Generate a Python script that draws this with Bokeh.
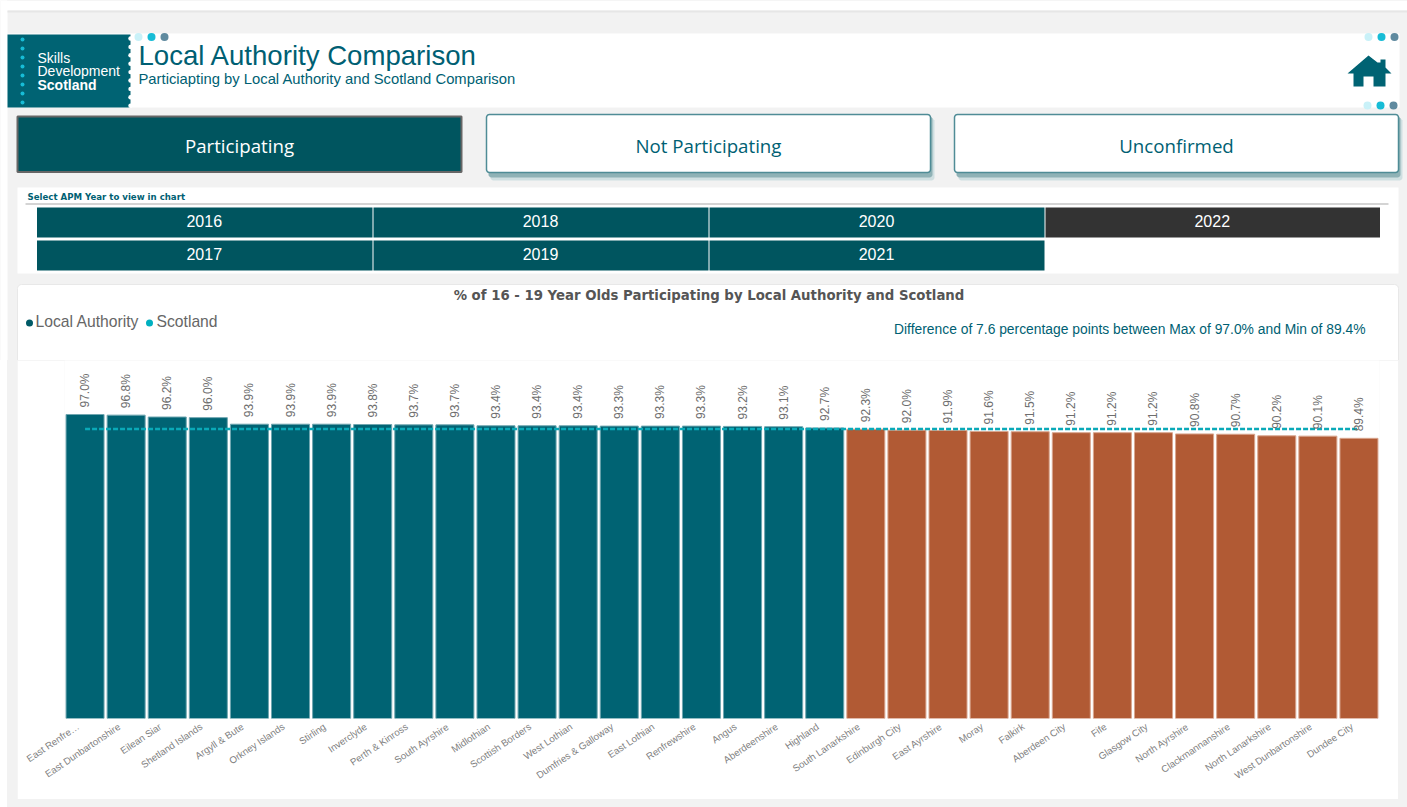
from bokeh.plotting import figure
from bokeh.embed import file_html
from bokeh.resources import INLINE
from bokeh.layouts import column
from bokeh.models import ColumnDataSource, Range1d, LinearAxis, FixedTicker
from bokeh.core.properties import value
import math

authorities = ["East Renfre…", "East Dunbartonshire", "Eilean Siar", "Shetland Islands", "Argyll & Bute",
               "Orkney Islands", "Stirling", "Inverclyde", "Perth & Kinross", "South Ayrshire", "Midlothian",
               "Scottish Borders", "West Lothian", "Dumfries & Galloway", "East Lothian", "Renfrewshire", "Angus",
               "Aberdeenshire", "Highland", "South Lanarkshire", "Edinburgh City", "East Ayrshire", "Moray",
               "Falkirk", "Aberdeen City", "Fife", "Glasgow City", "North Ayrshire", "Clackmannanshire",
               "North Lanarkshire", "West Dunbartonshire", "Dundee City"]
participating = [97.0, 96.8, 96.2, 96.0, 93.9, 93.9, 93.9, 93.8, 93.7, 93.7, 93.4, 93.4, 93.4, 93.3, 93.3, 93.3,
                 93.2, 93.1, 92.7, 92.3, 92.0, 91.9, 91.6, 91.5, 91.2, 91.2, 91.2, 90.8, 90.7, 90.2, 90.1, 89.4]
scotland = [92.4] * 32
first_year_row = ["2016", "2018", "2020", "2022"]
second_year_row = ["2017", "2019", "2021"]

TEAL = "#006373"
DARK = "#00555f"
ORANGE = "#b15a34"
CYAN = "#00b0c0"
INK = "#005f73"
GREY = "#f2f2f2"

PAGE_W, PAGE_H, SPLIT = 1407, 807, 360

# ---------- page furniture: a figure whose frame fills the canvas, one unit per pixel ----------
h = figure(width=PAGE_W, height=SPLIT, output_backend="svg", toolbar_location=None,
           x_range=Range1d(0, PAGE_W), y_range=Range1d(SPLIT, 0), x_axis_type=None, y_axis_type=None,
           min_border=0, min_border_left=0, min_border_right=0, min_border_top=0, min_border_bottom=0,
           frame_align=False)
h.background_fill_color = GREY
h.border_fill_color = GREY
h.outline_line_color = None
h.grid.visible = False


def box(x0, y0, x1, y1, fill, line=None, radius=0, lw=1):
    if radius:
        xs, ys = [], []
        for cx, cy, a0 in [(x1 - radius, y0 + radius, -90), (x1 - radius, y1 - radius, 0),
                           (x0 + radius, y1 - radius, 90), (x0 + radius, y0 + radius, 180)]:
            for k in range(5):
                a = math.radians(a0 + k * 22.5)
                xs.append(cx + radius * math.cos(a))
                ys.append(cy + radius * math.sin(a))
        h.patch(xs, ys, fill_color=fill, line_color=line or fill, line_width=lw, line_alpha=1 if line else 0)
    else:
        h.quad(left=x0, right=x1, top=y0, bottom=y1, fill_color=fill, line_color=line or fill,
               line_width=lw, line_alpha=1 if line else 0)


def dot(x, y, r, fill):
    h.circle(x=[x], y=[y], radius=r, fill_color=fill, line_alpha=0)


def label(x, y, text, size, color, font="Liberation Sans", align="left", style="normal"):
    h.text(x=[x], y=[y - 1], text=[text], text_font=value(font), text_font_size=f"{size}px", text_color=color,
           text_align=align, text_baseline="middle", text_font_style=style)


box(0, 0, PAGE_W, 10, "#ffffff")
box(0, 0, 7, SPLIT, "#ffffff")
box(7, 10, PAGE_W, 12, "#e6e6e6")
# header
box(7, 33, 1399, 107, "#ffffff")
box(7, 34, 130, 107, TEAL)
for i in range(9):
    dot(130, 38 + i * 8.4, 2.2, "#ffffff")
for i in range(8):
    dot(22, 39 + i * 9, 2, "#17bcd6")
label(37, 58, "Skills", 14, "#ffffff")
label(37, 71.5, "Development", 14, "#ffffff")
label(37, 85, "Scotland", 14, "#ffffff", style="bold")
for cx, cy in [(137, 36.5), (1367, 36.5), (1366, 105)]:
    dot(cx + 1, cy, 4, "#c9f1f8")
    dot(cx + 14, cy, 4, "#17bcd6")
    dot(cx + 27, cy, 4, "#5f8a9f")
label(138, 56, "Local Authority Comparison", 27.6, INK)
label(138, 79.5, "Particiapting by Local Authority and Scotland Comparison", 14.8, INK)
# home icon
house = [(1368, 55), (1377, 62), (1380, 62), (1380, 59), (1385, 59), (1385, 67), (1391, 73), (1385, 73), (1385, 86),
         (1373, 86), (1373, 76), (1363, 76), (1363, 86), (1353, 86), (1353, 73), (1347, 73)]
h.patch([a for a, _ in house], [b for _, b in house], fill_color=TEAL, line_alpha=0)
# tabs
box(17, 116, 461, 171.5, DARK, line="#666666", lw=2)
label(239, 146, "Participating", 18.7, "#ffffff", font="Open Sans", align="center")
for x0, x1, tab in [(486, 930, "Not Participating"), (954, 1398, "Unconfirmed")]:
    box(x0 + 4, 118, x1 + 4, 180, "#cfdfe1", radius=3)
    box(x0 + 2, 116, x1 + 2, 177, "#8fb2b6", radius=3)
    box(x0, 114, x1, 172, "#ffffff", line="#4f8c96", radius=3, lw=1.5)
    label((x0 + x1) / 2, 146, tab, 18.7, INK, font="Open Sans", align="center")
# year slicer
box(17, 187, 1398, 273, "#ffffff")
label(27, 197.5, "Select APM Year to view in chart", 8.6, INK, font="DejaVu Sans", style="bold")
box(25, 203, 1388, 204, "#aaaaaa")
edges_x = [36, 372.5, 708.5, 1044.5, 1380]
for i, yr in enumerate(first_year_row):
    box(edges_x[i] + 0.5, 207, edges_x[i + 1] - 0.5, 237, "#333333" if yr == "2022" else DARK)
    label((edges_x[i] + edges_x[i + 1]) / 2 - 0.5, 221.5, yr, 16, "#ffffff", align="center")
for i, yr in enumerate(second_year_row):
    box(edges_x[i] + 0.5, 240, edges_x[i + 1] - 0.5, 270, DARK)
    label((edges_x[i] + edges_x[i + 1]) / 2 - 0.5, 254.5, yr, 16, "#ffffff", align="center")
# chart panel, top part
box(17, 284, 1398, 370, "#ffffff", line="#e8e8e8", radius=4)
box(18, 300, 1397, SPLIT + 5, "#ffffff")
label(708.5, 295.5, "% of 16 - 19 Year Olds Participating by Local Authority and Scotland", 13.3, "#555555",
      font="DejaVu Sans", align="center", style="bold")
dot(29, 322.5, 3.5, "#005a66")
label(35, 321.5, "Local Authority", 15.7, "#666666")
dot(149, 322.5, 3.5, CYAN)
label(156, 321.5, "Scotland", 15.7, "#666666")
label(1365, 329.5, "Difference of 7.6 percentage points between Max of 97.0% and Min of 89.4%", 13.85, INK, align="right")

# ---------- the chart ----------
L, R, B = 47, 19, 81
CHART_W, CHART_H = 1381, 439

centres = [i + 0.5 for i in range(len(authorities))]
colors = [TEAL if v >= 92.5 else ORANGE for v in participating]
edges = ["#6fa6b0" if v >= 92.5 else "#d9a68f" for v in participating]
src = ColumnDataSource(dict(x=centres, y=participating, c=colors, e=edges, name=authorities,
                            t=[f"{v:.1f}%" for v in participating], s=scotland))

p = figure(width=CHART_W, height=CHART_H, output_backend="svg", toolbar_location=None,
           x_range=Range1d(0, len(authorities)), y_range=Range1d(0, (CHART_H - B) / 3.134),
           x_axis_type=None, y_axis_type=None,
           min_border_left=L, min_border_right=R, min_border_top=0, min_border_bottom=B,
           margin=(0, 9, 8, 17), frame_align=False)
p.border_fill_color = "#ffffff"
p.background_fill_color = "#ffffff"
p.outline_line_color = None
p.grid.visible = False

# category labels sit slightly left of their bars
shift = 0.17
ticks = [round(c - shift, 3) for c in centres]
ax = LinearAxis(ticker=FixedTicker(ticks=ticks),
                major_label_overrides={t: a for t, a in zip(ticks, authorities)})
ax.axis_line_color = None
ax.major_tick_line_color = None
ax.minor_tick_line_color = None
ax.major_tick_in = 0
ax.major_tick_out = 0
ax.major_label_orientation = math.radians(34)
ax.major_label_standoff = 7
ax.major_label_text_font = "Liberation Sans"
ax.major_label_text_font_size = "9.7px"
ax.major_label_text_color = "#808080"
p.add_layout(ax, "below")

p.vbar(x="x", top="y", bottom=0, width=0.925, source=src, fill_color="c", line_color="e", line_width=1)
p.line(x="x", y="s", source=src, line_color="#0aa9b8", line_width=2.5, line_dash="5 2")
p.text(x="x", y="y", text="t", source=src, angle=math.pi / 2, text_align="left", text_baseline="middle",
       y_offset=-7, text_font=value("Liberation Sans"), text_font_size="12px", text_color="#6e6e6e")

page = column(h, p, spacing=0, width=PAGE_W, height=PAGE_H,
              styles={"background": f"linear-gradient(to right, #ffffff 7px, {GREY} 7px)"})

open("out.html", "w").write(file_html(page, INLINE))
